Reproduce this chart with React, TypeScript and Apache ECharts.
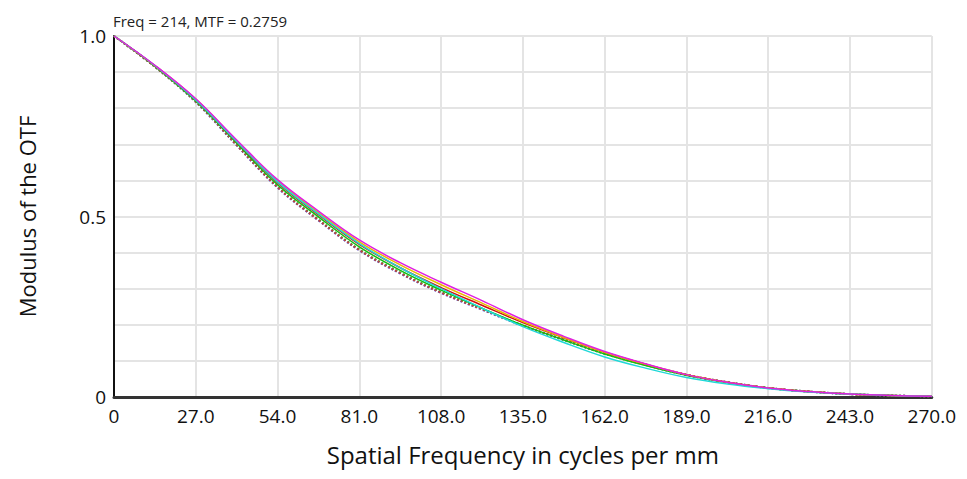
import React, { useEffect, useRef } from "react";
import * as echarts from "echarts";

const freqs = [0, 13.5, 27, 40.5, 54, 67.5, 81, 94.5, 108, 121.5, 135, 148.5, 162, 175.5, 189, 202.5, 216, 229.5, 243, 256.5, 270];
const xTicks = ["0", "27.0", "54.0", "81.0", "108.0", "135.0", "162.0", "189.0", "216.0", "243.0", "270.0"];
const yTicks = ["0", "0.5", "1.0"];

const magentaT = [1.0, 0.919, 0.826, 0.712, 0.602, 0.515, 0.435, 0.372, 0.318, 0.267, 0.214, 0.168, 0.126, 0.092, 0.062, 0.041, 0.025, 0.015, 0.008, 0.004, 0.002];
const yellowT = [1.0, 0.918, 0.825, 0.71, 0.599, 0.511, 0.43, 0.366, 0.311, 0.26, 0.209, 0.165, 0.124, 0.091, 0.062, 0.041, 0.025, 0.015, 0.008, 0.004, 0.002];
const redT = [1.0, 0.917, 0.823, 0.707, 0.594, 0.505, 0.423, 0.358, 0.303, 0.254, 0.206, 0.164, 0.124, 0.091, 0.062, 0.041, 0.025, 0.015, 0.008, 0.004, 0.002];
const cyanT = [1.0, 0.918, 0.823, 0.708, 0.596, 0.507, 0.425, 0.358, 0.3, 0.246, 0.195, 0.151, 0.111, 0.08, 0.054, 0.036, 0.023, 0.014, 0.008, 0.004, 0.002];
const greenT = [1.0, 0.916, 0.82, 0.703, 0.588, 0.499, 0.416, 0.351, 0.296, 0.246, 0.199, 0.158, 0.119, 0.087, 0.06, 0.04, 0.025, 0.015, 0.008, 0.004, 0.002];
const blueS = [1.0, 0.915, 0.817, 0.697, 0.58, 0.489, 0.406, 0.342, 0.288, 0.242, 0.197, 0.158, 0.12, 0.089, 0.061, 0.041, 0.025, 0.015, 0.008, 0.004, 0.002];
const redS = [1.0, 0.915, 0.818, 0.698, 0.581, 0.49, 0.407, 0.343, 0.289, 0.243, 0.198, 0.159, 0.121, 0.09, 0.062, 0.041, 0.025, 0.015, 0.008, 0.004, 0.002];
const greenS = [1.0, 0.915, 0.818, 0.699, 0.583, 0.492, 0.409, 0.345, 0.291, 0.244, 0.198, 0.158, 0.12, 0.089, 0.061, 0.041, 0.025, 0.015, 0.008, 0.004, 0.002];

const seriesDefs = [
  { name: "Field 1 S", data: blueS, color: "#4060ff", type: "dotted" },
  { name: "Field 2 S", data: greenS, color: "#30b030", type: "dotted" },
  { name: "Field 3 S", data: redS, color: "#c04040", type: "dotted" },
  { name: "Field 1 T", data: greenT, color: "#10c010", type: "solid" },
  { name: "Field 2 T", data: redT, color: "#d01010", type: "solid" },
  { name: "Field 3 T", data: yellowT, color: "#e8b800", type: "solid" },
  { name: "Field 4 T", data: cyanT, color: "#20d8d8", type: "solid" },
  { name: "Field 5 T", data: magentaT, color: "#e020e0", type: "solid" },
];

export default function App() {
  const ref = useRef<HTMLDivElement>(null);
  useEffect(() => {
    const chart = echarts.init(ref.current!, null, { renderer: "svg" });
    const font = "'Open Sans', 'Noto Sans', sans-serif";
    chart.setOption({
      animation: false,
      backgroundColor: "#ffffff",
      title: {
        text: "Freq = 214, MTF = 0.2759",
        left: 100,
        top: 0,
        textStyle: { fontSize: 15, fontWeight: "normal", color: "#222", fontFamily: font },
      },
      grid: { left: 97, right: 24, top: 28, bottom: 65, containLabel: false },
      xAxis: {
        type: "value",
        min: 0,
        max: 270,
        interval: 27,
        name: "Spatial Frequency in cycles per mm",
        nameLocation: "middle",
        nameGap: 45,
        nameTextStyle: { fontSize: 24, color: "#111", fontFamily: font },
        axisLine: { show: true, lineStyle: { color: "#333", width: 3 } },
        axisTick: { show: false },
        axisLabel: {
          fontSize: 19,
          color: "#111",
          fontFamily: font,
          margin: 9,
          formatter: (v: number) => {
            const i = Math.round(v / 27);
            return xTicks[i] ?? "";
          },
        },
        splitLine: { show: true, lineStyle: { color: "#e4e4e4", width: 2 } },
      },
      yAxis: {
        type: "value",
        min: 0,
        max: 1,
        interval: 0.1,
        name: "Modulus of the OTF",
        nameLocation: "middle",
        nameGap: 76,
        nameTextStyle: { fontSize: 22, color: "#111", fontFamily: font },
        axisLine: { show: true, lineStyle: { color: "#111", width: 2 } },
        axisTick: { show: false },
        axisLabel: {
          fontSize: 19,
          color: "#111",
          fontFamily: font,
          margin: 8,
          formatter: (v: number) => {
            if (Math.abs(v) < 1e-6) return yTicks[0];
            if (Math.abs(v - 0.5) < 1e-6) return yTicks[1];
            if (Math.abs(v - 1) < 1e-6) return yTicks[2];
            return "";
          },
        },
        splitLine: { show: true, lineStyle: { color: "#e4e4e4", width: 2 } },
      },
      series: seriesDefs.map((s) => ({
        name: s.name,
        type: "line",
        smooth: 0.4,
        showSymbol: false,
        data: freqs.map((f, i) => [f, s.data[i]]),
        lineStyle: { color: s.color, width: s.type === "dotted" ? 2 : 1.5, type: s.type },
        itemStyle: { color: s.color },
      })),
    });
    return () => chart.dispose();
  }, []);
  return <div ref={ref} style={{ width: 951, height: 463 }} />;
}
